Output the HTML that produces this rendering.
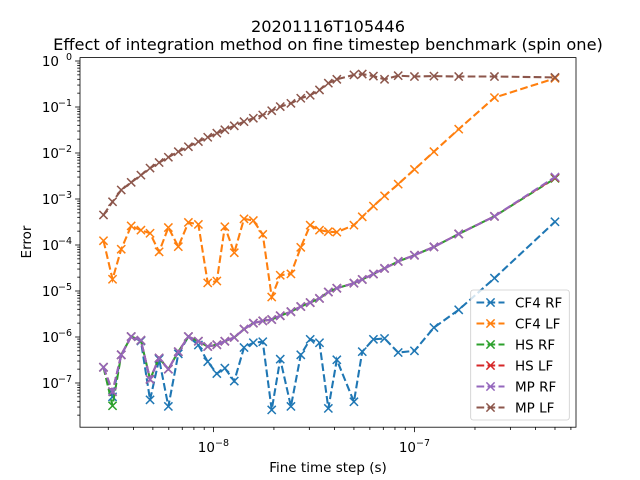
<!DOCTYPE html>
<html><head><meta charset="utf-8"><style>
body{margin:0;background:#fff}
svg{display:block;font-family:"DejaVu Sans","Liberation Sans",sans-serif}
</style></head><body>
<svg id="chart" width="640" height="480" viewBox="0 0 640 480" xmlns="http://www.w3.org/2000/svg">
<rect width="640" height="480" fill="#fff"/>
<text x="328" y="32" text-anchor="middle" font-size="16.2" fill="#000">20201116T105446</text>
<text x="328" y="50" text-anchor="middle" font-size="16.2" fill="#000">Effect of integration method on fine timestep benchmark (spin one)</text>
<g id="plot"></g>
<text x="328" y="472" text-anchor="middle" font-size="13.5" fill="#000">Fine time step (s)</text>
<text x="0" y="0" transform="translate(31,242) rotate(-90)" text-anchor="middle" font-size="13.5" fill="#000">Error</text>
</svg>
<script>
const xValues = [2.84e-9,3.15e-9,3.48e-9,3.90e-9,4.36e-9,4.84e-9,5.37e-9,5.97e-9,6.69e-9,7.51e-9,8.42e-9,9.37e-9,1.04e-8,1.14e-8,1.27e-8,1.42e-8,1.58e-8,1.76e-8,1.95e-8,2.15e-8,2.43e-8,2.72e-8,3.03e-8,3.37e-8,3.73e-8,4.11e-8,5.0e-8,5.5e-8,6.25e-8,7.1e-8,8.3e-8,1.0e-7,1.25e-7,1.66e-7,2.5e-7,5.0e-7];
const cf4RF = [2.2e-7,5e-8,4.1e-7,1.02e-6,8.2e-7,4.3e-8,3.3e-7,3.1e-8,4.3e-7,1.02e-6,6.7e-7,2.9e-7,1.6e-7,2.1e-7,1.1e-7,5.9e-7,7.5e-7,7.9e-7,2.6e-8,3.3e-7,3.1e-8,4.1e-7,8.9e-7,7.5e-7,2.8e-8,3.2e-7,3.9e-8,4.8e-7,8.9e-7,9.3e-7,4.6e-7,5e-7,1.6e-6,3.9e-6,1.9e-5,3.2e-4];
const cf4LF = [1.24e-4,1.8e-5,8.1e-5,2.6e-4,2.1e-4,1.8e-4,7.1e-5,2.4e-4,9.2e-5,3.1e-4,2.8e-4,1.5e-5,1.65e-5,2.5e-4,6.8e-5,3.7e-4,3.4e-4,1.7e-4,7.4e-6,2.2e-5,2.35e-5,8.9e-5,2.7e-4,2.1e-4,1.95e-4,1.9e-4,2.7e-4,4.1e-4,7e-4,1.17e-3,2.1e-3,4.4e-3,1.07e-2,3.3e-2,0.16,0.42];
const hsRF = [2.2e-7,3.2e-8,4.1e-7,1.02e-6,8.5e-7,1.2e-7,3.5e-7,2.0e-7,4.8e-7,1.02e-6,8.1e-7,6.2e-7,6.8e-7,8.1e-7,9.8e-7,1.48e-6,2.0e-6,2.24e-6,2.4e-6,2.9e-6,3.55e-6,4.6e-6,5.6e-6,6.9e-6,9.5e-6,1.15e-5,1.48e-5,1.78e-5,2.34e-5,3.1e-5,4.4e-5,6.0e-5,9.1e-5,1.74e-4,4.2e-4,2.8e-3];
const hsLF = [2.2e-7,6.5e-8,4.1e-7,1.02e-6,8.5e-7,1.2e-7,3.5e-7,2.0e-7,4.8e-7,1.02e-6,8.1e-7,6.2e-7,6.8e-7,8.1e-7,9.8e-7,1.48e-6,2.0e-6,2.24e-6,2.4e-6,2.9e-6,3.55e-6,4.6e-6,5.6e-6,6.9e-6,9.5e-6,1.15e-5,1.48e-5,1.78e-5,2.34e-5,3.1e-5,4.4e-5,6.0e-5,9.1e-5,1.74e-4,4.2e-4,2.9e-3];
const mpRF = [2.2e-7,6.5e-8,4.1e-7,1.02e-6,8.5e-7,1.2e-7,3.5e-7,2.0e-7,4.8e-7,1.02e-6,8.1e-7,6.2e-7,6.8e-7,8.1e-7,9.8e-7,1.48e-6,2.0e-6,2.24e-6,2.4e-6,2.9e-6,3.55e-6,4.6e-6,5.6e-6,6.9e-6,9.5e-6,1.15e-5,1.48e-5,1.78e-5,2.34e-5,3.1e-5,4.4e-5,6.0e-5,9.1e-5,1.74e-4,4.2e-4,3.0e-3];
const mpLF = [4.5e-4,8.7e-4,1.57e-3,2.3e-3,3.3e-3,4.7e-3,6.2e-3,8.1e-3,1.07e-2,1.37e-2,1.77e-2,2.2e-2,2.7e-2,3.2e-2,3.9e-2,4.8e-2,5.7e-2,6.7e-2,8.3e-2,0.102,0.12,0.155,0.18,0.235,0.33,0.40,0.50,0.52,0.47,0.40,0.48,0.46,0.47,0.46,0.46,0.44];
const seriesNames = ["CF4 RF","CF4 LF","HS RF","HS LF","MP RF","MP LF"];
const xTickExps = [-8,-7];
const yTickExps = [0,-1,-2,-3,-4,-5,-6,-7];

const NS="http://www.w3.org/2000/svg";
const L=80,R=576,T=57.6,B=427.2;
const xMin=-8.6635,xMax=-6.1965;
const yMax=0.074,yMin=-7.961;
function xs(v){return L+(Math.log10(v)-xMin)/(xMax-xMin)*(R-L);}
function ys(v){return T+(yMax-Math.log10(v))/(yMax-yMin)*(B-T);}
function mk(tag,attrs,parent){const e=document.createElementNS(NS,tag);for(const k in attrs)e.setAttribute(k,attrs[k]);parent.appendChild(e);return e;}
const plot=document.getElementById('plot');
const colors=["#1f77b4","#ff7f0e","#2ca02c","#d62728","#9467bd","#8c564b"];
const series=[cf4RF,cf4LF,hsRF,hsLF,mpRF,mpLF];
const DASH='7.7 3.3';
const clip=mk('clipPath',{id:'clipA'},mk('defs',{},plot));
mk('rect',{x:L,y:T,width:R-L,height:B-T},clip);
const dataG=mk('g',{'clip-path':'url(#clipA)'},plot);
series.forEach((ys_,si)=>{
  const g=mk('g',{},dataG);
  
  
  const d=ys_.map((v,i)=>(i?'L':'M')+xs(xValues[i]).toFixed(2)+' '+ys(v).toFixed(2)).join(' ');
  const p=mk('path',{d:d,fill:'none',stroke:colors[si],'stroke-width':2.08,'stroke-dasharray':DASH},g);
  
  
  ys_.forEach((v,i)=>{
    const cx=xs(xValues[i]),cy=ys(v),h=4.1;
    const m=mk('path',{d:`M${cx-h} ${cy-h}L${cx+h} ${cy+h}M${cx-h} ${cy+h}L${cx+h} ${cy-h}`,stroke:colors[si],'stroke-width':1.5,fill:'none'},g);
    
    
  });
});
const axG=mk('g',{stroke:'#000','stroke-width':0.8},plot);
for(let e=-9;e<=-6;e++){for(let k=1;k<10;k++){const v=k*Math.pow(10,e);const lx=Math.log10(v);if(lx<xMin||lx>xMax)continue;const x=xs(v);mk('line',{x1:x,x2:x,y1:B,y2:B+(k==1?4.9:2.8)},axG);}}
for(let e=-8;e<=0;e++){for(let k=1;k<10;k++){const v=k*Math.pow(10,e);const ly=Math.log10(v);if(ly<yMin||ly>yMax)continue;const y=ys(v);mk('line',{x1:L,x2:L-(k==1?4.9:2.8),y1:y,y2:y},axG);}}
xTickExps.forEach(e=>{
  const t=mk('text',{x:xs(Math.pow(10,e)),y:452,'text-anchor':'middle','font-size':13.5,fill:'#000'},plot);
  
  
  t.innerHTML='10<tspan dy="-6" font-size="9.5">\u2212'+(-e)+'</tspan>';
});
yTickExps.forEach(e=>{
  const t=mk('text',{x:L-21,y:ys(Math.pow(10,e))+5,'text-anchor':'end','font-size':13.5,fill:'#000'},plot);
  
  
  t.innerHTML='10';
  const s=mk('text',{x:L-8,y:ys(Math.pow(10,e))-1,'text-anchor':'end','font-size':9.5,fill:'#000'},plot);
  
  
  s.textContent=e===0?'0':'\u2212'+(-e);
});
const frame=mk('rect',{x:L,y:T,width:R-L,height:B-T,fill:'none',stroke:'#000','stroke-width':0.8},plot);


const lg=mk('g',{},plot);


mk('rect',{x:470.7,y:290,width:98.6,height:130,rx:2.5,fill:'#fff','fill-opacity':0.8,stroke:'#ccc','stroke-width':0.8},lg);
seriesNames.forEach((n,i)=>{
  const y=302.5+i*21;
  const e=mk('g',{},lg);
  
  
  mk('line',{x1:476.5,x2:504.5,y1:y,y2:y,stroke:colors[i],'stroke-width':2.08,'stroke-dasharray':DASH},e);
  mk('path',{d:`M486.4 ${y-4.1}L494.6 ${y+4.1}M486.4 ${y+4.1}L494.6 ${y-4.1}`,stroke:colors[i],'stroke-width':1.5},e);
  const t=mk('text',{x:515,y:y+5,'font-size':13.5,fill:'#000'},e);
  t.textContent=n;
});
</script>
</body></html>
